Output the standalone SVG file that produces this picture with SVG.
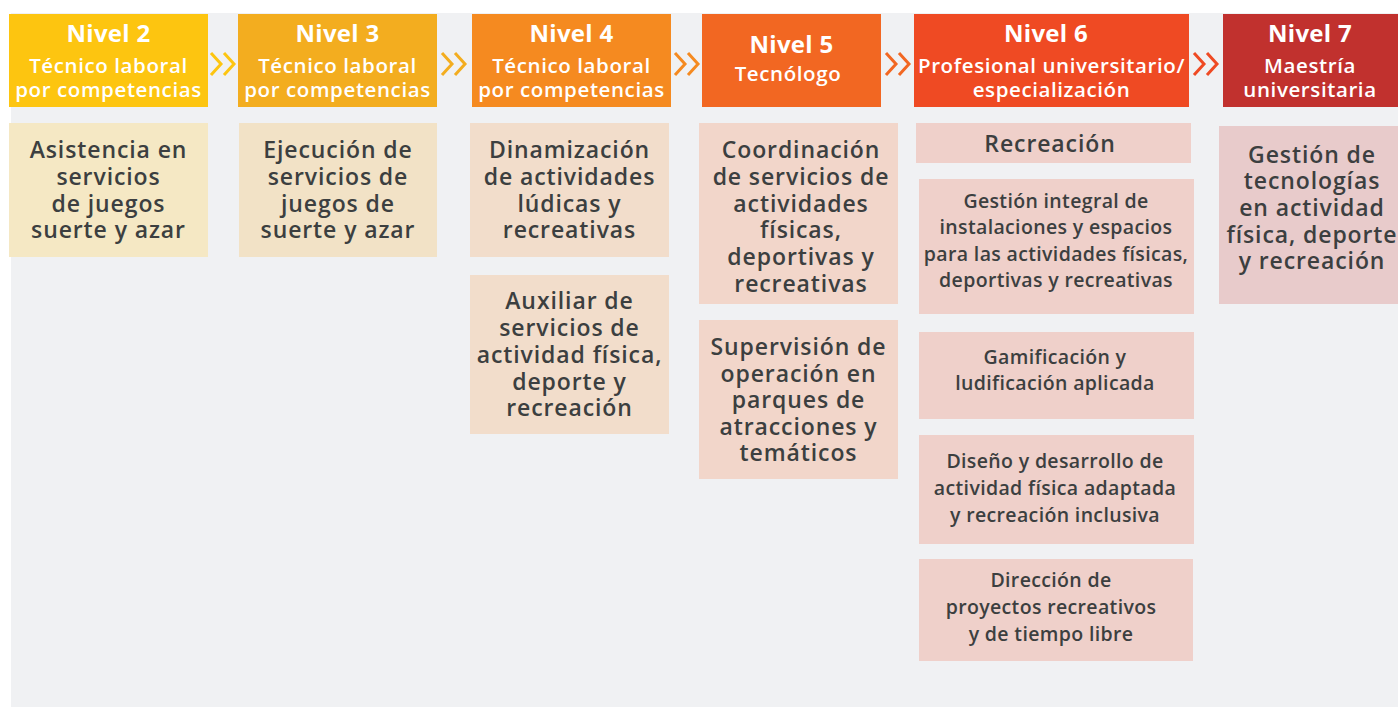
<svg xmlns="http://www.w3.org/2000/svg" width="1398" height="707" viewBox="0 0 1398 707">
<defs>
<style>
.hd{font-family:"Open Sans","Liberation Sans",sans-serif;fill:#fff;text-anchor:middle}
.t1{font-weight:700;font-size:24px;letter-spacing:0.3px}
.t2{font-weight:600;font-size:20.5px;letter-spacing:0.6px}
.bx{font-family:"Open Sans","Liberation Sans",sans-serif;font-weight:600;fill:#3c3f40;text-anchor:middle;font-size:23px;letter-spacing:0.9px}
.sm{font-size:19.5px;letter-spacing:0.35px}
.chev{fill:none;stroke-width:3}
</style>
</defs>
<rect x="0" y="0" width="1398" height="707" fill="#ffffff"/>
<rect x="11" y="13" width="1387" height="694" fill="#f0f1f3"/>

<g id="connectors">
<path class="chev" stroke="#fdc510" d="M211,53 L221,64 L211,75 M224,53 L234,64 L224,75"/>
<path class="chev" stroke="#f3ad1f" d="M442,53 L452,64 L442,75 M455,53 L465,64 L455,75"/>
<path class="chev" stroke="#f58a20" d="M675,53 L685,64 L675,75 M688,53 L698,64 L688,75"/>
<path class="chev" stroke="#f26722" d="M886,53 L896,64 L886,75 M899,53 L909,64 L899,75"/>
<path class="chev" stroke="#ef4a23" d="M1194,53 L1204,64 L1194,75 M1207,53 L1217,64 L1207,75"/>
</g>

<g id="nivel2">
<rect x="9" y="14" width="199" height="93" fill="#fdc510"/>
<text class="hd t1" x="108.5" y="42">Nivel 2</text>
<text class="hd t2"><tspan x="108.5" y="73">Técnico laboral</tspan><tspan x="108.5" y="97">por competencias</tspan></text>
</g>
<g id="nivel3">
<rect x="238" y="14" width="199" height="93" fill="#f3ad1f"/>
<text class="hd t1" x="337.5" y="42">Nivel 3</text>
<text class="hd t2"><tspan x="337.5" y="73">Técnico laboral</tspan><tspan x="337.5" y="97">por competencias</tspan></text>
</g>
<g id="nivel4">
<rect x="472" y="14" width="199" height="93" fill="#f58a20"/>
<text class="hd t1" x="571.5" y="42">Nivel 4</text>
<text class="hd t2"><tspan x="571.5" y="73">Técnico laboral</tspan><tspan x="571.5" y="97">por competencias</tspan></text>
</g>
<g id="nivel5">
<rect x="702" y="14" width="179" height="93" fill="#f26722"/>
<text class="hd t1" x="791.5" y="53">Nivel 5</text>
<text class="hd t2" x="788" y="81">Tecnólogo</text>
</g>
<g id="nivel6">
<rect x="914" y="14" width="275" height="93" fill="#ef4a23"/>
<text class="hd t1" x="1046" y="42">Nivel 6</text>
<text class="hd t2"><tspan x="1051.5" y="73">Profesional universitario/</tspan><tspan x="1051.5" y="97">especialización</tspan></text>
</g>
<g id="nivel7">
<rect x="1223" y="14" width="175" height="93" fill="#c1312e"/>
<text class="hd t1" x="1310" y="42">Nivel 7</text>
<text class="hd t2"><tspan x="1310" y="73">Maestría</tspan><tspan x="1310" y="97">universitaria</tspan></text>
</g>

<g id="asistencia">
<rect x="9" y="123" width="199" height="134" fill="#f5e8c4"/>
<text class="bx"><tspan x="108.5" y="158">Asistencia en</tspan><tspan x="108.5" y="185">servicios</tspan><tspan x="108.5" y="212">de juegos</tspan><tspan x="108.5" y="238">suerte y azar</tspan></text>
</g>
<g id="ejecucion">
<rect x="239" y="123" width="198" height="134" fill="#f2e2c6"/>
<text class="bx"><tspan x="338" y="158">Ejecución de</tspan><tspan x="338" y="185">servicios de</tspan><tspan x="338" y="212">juegos de</tspan><tspan x="338" y="238">suerte y azar</tspan></text>
</g>
<g id="dinamizacion">
<rect x="470" y="123" width="199" height="134" fill="#f2ddcb"/>
<text class="bx"><tspan x="569.5" y="158">Dinamización</tspan><tspan x="569.5" y="185">de actividades</tspan><tspan x="569.5" y="212">lúdicas y</tspan><tspan x="569.5" y="238">recreativas</tspan></text>
</g>
<g id="auxiliar">
<rect x="470" y="275" width="199" height="159" fill="#f2ddcb"/>
<text class="bx"><tspan x="569.5" y="309">Auxiliar de</tspan><tspan x="569.5" y="336">servicios de</tspan><tspan x="569.5" y="363">actividad física,</tspan><tspan x="569.5" y="390">deporte y</tspan><tspan x="569.5" y="416">recreación</tspan></text>
</g>
<g id="coordinacion">
<rect x="699" y="123" width="199" height="181" fill="#f2d6ca"/>
<text class="bx"><tspan x="801" y="158">Coordinación</tspan><tspan x="801" y="185">de servicios de</tspan><tspan x="801" y="212">actividades</tspan><tspan x="801" y="238">físicas,</tspan><tspan x="801" y="265">deportivas y</tspan><tspan x="801" y="292">recreativas</tspan></text>
</g>
<g id="supervision">
<rect x="699" y="320" width="199" height="159" fill="#f2d6ca"/>
<text class="bx"><tspan x="798.5" y="355">Supervisión de</tspan><tspan x="798.5" y="382">operación en</tspan><tspan x="798.5" y="408">parques de</tspan><tspan x="798.5" y="435">atracciones y</tspan><tspan x="798.5" y="461">temáticos</tspan></text>
</g>
<g id="recreacion">
<rect x="916" y="123" width="275" height="40" fill="#efd0ca"/>
<text class="bx" x="1050" y="152">Recreación</text>
</g>
<g id="gestion-integral">
<rect x="919" y="179" width="275" height="135" fill="#efd0ca"/>
<text class="bx sm"><tspan x="1056" y="208">Gestión integral de</tspan><tspan x="1056" y="234">instalaciones y espacios</tspan><tspan x="1056" y="261">para las actividades físicas,</tspan><tspan x="1056" y="287">deportivas y recreativas</tspan></text>
</g>
<g id="gamificacion">
<rect x="919" y="332" width="275" height="87" fill="#efd0ca"/>
<text class="bx sm"><tspan x="1055" y="364">Gamificación y</tspan><tspan x="1055" y="390">ludificación aplicada</tspan></text>
</g>
<g id="diseno">
<rect x="919" y="435" width="275" height="109" fill="#efd0ca"/>
<text class="bx sm"><tspan x="1055" y="468">Diseño y desarrollo de</tspan><tspan x="1055" y="495">actividad física adaptada</tspan><tspan x="1055" y="522">y recreación inclusiva</tspan></text>
</g>
<g id="direccion">
<rect x="919" y="559" width="274" height="102" fill="#efd0ca"/>
<text class="bx sm"><tspan x="1051" y="587">Dirección de</tspan><tspan x="1051" y="614">proyectos recreativos</tspan><tspan x="1051" y="641">y de tiempo libre</tspan></text>
</g>
<g id="gestion-tecnologias">
<rect x="1219" y="126" width="179" height="178" fill="#e8cbcb"/>
<text class="bx"><tspan x="1312" y="163">Gestión de</tspan><tspan x="1312" y="189">tecnologías</tspan><tspan x="1312" y="216">en actividad</tspan><tspan x="1312" y="243">física, deporte</tspan><tspan x="1312" y="269">y recreación</tspan></text>
</g>
</svg>
